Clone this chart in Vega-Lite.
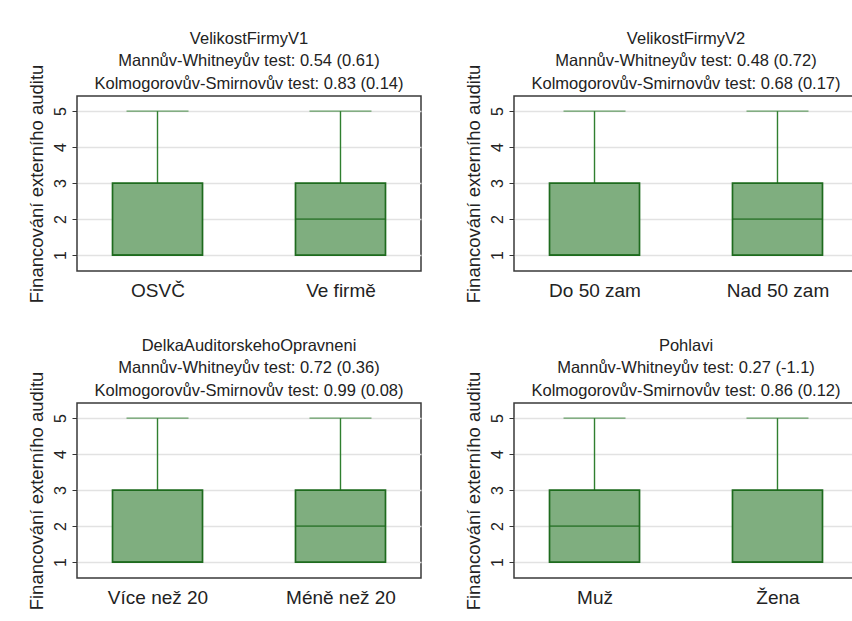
{
  "$schema": "https://vega.github.io/schema/vega-lite/v6.json",
  "background": "white",
  "padding": {"left": 26, "top": 29, "right": 0, "bottom": 0},
  "config": {
    "font": "Liberation Sans",
    "view": {"stroke": "#3a3a3a", "strokeWidth": 1.5},
    "title": {"fontSize": 16.5, "fontWeight": "normal", "color": "#222222", "lineHeight": 22.5, "offset": -28, "frame": "group", "anchor": "middle"},
    "axisY": {"domain": false, "grid": true, "gridColor": "#e2e2e2", "gridWidth": 1.5, "tickColor": "#333333", "tickSize": 5, "tickWidth": 1, "labelFontSize": 16, "labelColor": "#222222", "labelAngle": -90, "labelAlign": "center", "labelBaseline": "bottom", "labelPadding": 4, "titleFontSize": 18.5, "titleFontWeight": "normal", "titleColor": "#222222", "titlePadding": 6},
    "axisX": {"domain": false, "ticks": false, "grid": false, "labelFontSize": 19, "labelColor": "#222222", "labelAngle": 0, "labelPadding": 10}
  },
  "columns": 2,
  "spacing": {"row": 32, "column": 41},
  "concat": [
    {
      "width": 344, "height": 175,
      "title": {"text": ["VelikostFirmyV1", "Mannův-Whitneyův test: 0.54 (0.61)", "Kolmogorovův-Smirnovův test: 0.83 (0.14)"]},
      "data": {"values": [
        {"skupina": "OSVČ", "min": 1, "q1": 1, "median": 1, "q3": 3, "max": 5},
        {"skupina": "Ve firmě", "min": 1, "q1": 1, "median": 2, "q3": 3, "max": 5}
      ]},
      "encoding": {"x": {"field": "skupina", "type": "nominal", "sort": null, "scale": {"type": "point", "padding": 0.44}, "axis": {"title": null}}},
      "layer": [
        {"mark": {"type": "rule", "color": "#2f7f2f", "strokeWidth": 1.4}, "encoding": {"y": {"field": "q3", "type": "quantitative", "scale": {"domain": [0.56, 5.42], "nice": false, "zero": false}, "axis": {"values": [1, 2, 3, 4, 5], "title": "Financování externího auditu"}}, "y2": {"field": "max"}}},
        {"mark": {"type": "tick", "size": 62, "thickness": 1.4, "color": "#2f7f2f"}, "encoding": {"y": {"field": "max", "type": "quantitative"}}},
        {"mark": {"type": "bar", "size": 90, "fill": "#7fae7f", "stroke": "#1e6b1e", "strokeWidth": 1.7}, "encoding": {"y": {"field": "q1", "type": "quantitative"}, "y2": {"field": "q3"}}},
        {"mark": {"type": "tick", "size": 90, "thickness": 1.7, "color": "#1e6b1e"}, "encoding": {"y": {"field": "median", "type": "quantitative"}}}
      ]
    },
    {
      "width": 344, "height": 175,
      "title": {"text": ["VelikostFirmyV2", "Mannův-Whitneyův test: 0.48 (0.72)", "Kolmogorovův-Smirnovův test: 0.68 (0.17)"]},
      "data": {"values": [
        {"skupina": "Do 50 zam", "min": 1, "q1": 1, "median": 1, "q3": 3, "max": 5},
        {"skupina": "Nad 50 zam", "min": 1, "q1": 1, "median": 2, "q3": 3, "max": 5}
      ]},
      "encoding": {"x": {"field": "skupina", "type": "nominal", "sort": null, "scale": {"type": "point", "padding": 0.44}, "axis": {"title": null}}},
      "layer": [
        {"mark": {"type": "rule", "color": "#2f7f2f", "strokeWidth": 1.4}, "encoding": {"y": {"field": "q3", "type": "quantitative", "scale": {"domain": [0.56, 5.42], "nice": false, "zero": false}, "axis": {"values": [1, 2, 3, 4, 5], "title": "Financování externího auditu"}}, "y2": {"field": "max"}}},
        {"mark": {"type": "tick", "size": 62, "thickness": 1.4, "color": "#2f7f2f"}, "encoding": {"y": {"field": "max", "type": "quantitative"}}},
        {"mark": {"type": "bar", "size": 90, "fill": "#7fae7f", "stroke": "#1e6b1e", "strokeWidth": 1.7}, "encoding": {"y": {"field": "q1", "type": "quantitative"}, "y2": {"field": "q3"}}},
        {"mark": {"type": "tick", "size": 90, "thickness": 1.7, "color": "#1e6b1e"}, "encoding": {"y": {"field": "median", "type": "quantitative"}}}
      ]
    },
    {
      "width": 344, "height": 175,
      "title": {"text": ["DelkaAuditorskehoOpravneni", "Mannův-Whitneyův test: 0.72 (0.36)", "Kolmogorovův-Smirnovův test: 0.99 (0.08)"]},
      "data": {"values": [
        {"skupina": "Více než 20", "min": 1, "q1": 1, "median": 1, "q3": 3, "max": 5},
        {"skupina": "Méně než 20", "min": 1, "q1": 1, "median": 2, "q3": 3, "max": 5}
      ]},
      "encoding": {"x": {"field": "skupina", "type": "nominal", "sort": null, "scale": {"type": "point", "padding": 0.44}, "axis": {"title": null}}},
      "layer": [
        {"mark": {"type": "rule", "color": "#2f7f2f", "strokeWidth": 1.4}, "encoding": {"y": {"field": "q3", "type": "quantitative", "scale": {"domain": [0.56, 5.42], "nice": false, "zero": false}, "axis": {"values": [1, 2, 3, 4, 5], "title": "Financování externího auditu"}}, "y2": {"field": "max"}}},
        {"mark": {"type": "tick", "size": 62, "thickness": 1.4, "color": "#2f7f2f"}, "encoding": {"y": {"field": "max", "type": "quantitative"}}},
        {"mark": {"type": "bar", "size": 90, "fill": "#7fae7f", "stroke": "#1e6b1e", "strokeWidth": 1.7}, "encoding": {"y": {"field": "q1", "type": "quantitative"}, "y2": {"field": "q3"}}},
        {"mark": {"type": "tick", "size": 90, "thickness": 1.7, "color": "#1e6b1e"}, "encoding": {"y": {"field": "median", "type": "quantitative"}}}
      ]
    },
    {
      "width": 344, "height": 175,
      "title": {"text": ["Pohlavi", "Mannův-Whitneyův test: 0.27 (-1.1)", "Kolmogorovův-Smirnovův test: 0.86 (0.12)"]},
      "data": {"values": [
        {"skupina": "Muž", "min": 1, "q1": 1, "median": 2, "q3": 3, "max": 5},
        {"skupina": "Žena", "min": 1, "q1": 1, "median": 1, "q3": 3, "max": 5}
      ]},
      "encoding": {"x": {"field": "skupina", "type": "nominal", "sort": null, "scale": {"type": "point", "padding": 0.44}, "axis": {"title": null}}},
      "layer": [
        {"mark": {"type": "rule", "color": "#2f7f2f", "strokeWidth": 1.4}, "encoding": {"y": {"field": "q3", "type": "quantitative", "scale": {"domain": [0.56, 5.42], "nice": false, "zero": false}, "axis": {"values": [1, 2, 3, 4, 5], "title": "Financování externího auditu"}}, "y2": {"field": "max"}}},
        {"mark": {"type": "tick", "size": 62, "thickness": 1.4, "color": "#2f7f2f"}, "encoding": {"y": {"field": "max", "type": "quantitative"}}},
        {"mark": {"type": "bar", "size": 90, "fill": "#7fae7f", "stroke": "#1e6b1e", "strokeWidth": 1.7}, "encoding": {"y": {"field": "q1", "type": "quantitative"}, "y2": {"field": "q3"}}},
        {"mark": {"type": "tick", "size": 90, "thickness": 1.7, "color": "#1e6b1e"}, "encoding": {"y": {"field": "median", "type": "quantitative"}}}
      ]
    }
  ]
}
